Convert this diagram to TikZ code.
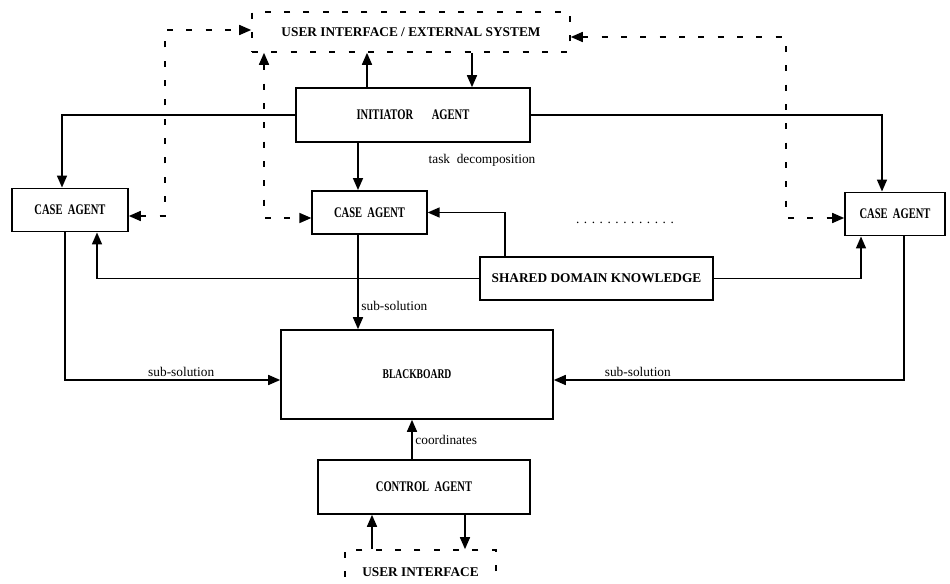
\documentclass[tikz,border=0pt]{standalone}
\usepackage{fontspec}
\setmainfont{Liberation Serif}
\newfontfamily\schmal[FakeStretch=0.72]{Liberation Serif}
\usetikzlibrary{arrows.meta,calc}

\begin{document}
\begin{tikzpicture}[x=0.75pt,y=-0.75pt,
  >={Triangle[length=9pt,width=7.5pt]},
  line width=1.2pt,
  kasten/.style={draw,rectangle,inner sep=0pt,font=\schmal\bfseries\fontsize{11}{13}\selectfont},
  extern/.style={draw,dash pattern=on 4.5pt off 10pt,inner sep=0pt,font=\bfseries\fontsize{10}{12}\selectfont},
  gestrichelt/.style={dash pattern=on 4.5pt off 10pt,<->},
  beschr/.style={font=\fontsize{10}{12}\selectfont,inner sep=2pt}]
\useasboundingbox (0,0) rectangle (950,584);
\clip (0,0) rectangle (950,584);
%Kaesten (Koordinaten in Pixel)
\node[extern,minimum width=238.5pt,minimum height=30pt] (ui) at (411,32) {USER INTERFACE / EXTERNAL SYSTEM};
\node[kasten,minimum width=175.5pt,minimum height=40.5pt] (init) at (413,115) {INITIATOR\hspace{14pt}AGENT};
\foreach \n/\x/\y/\b in {caseA/70/210/87pt, caseB/369.5/212.5/86pt, caseC/895/214/75pt}{
  \node[kasten,minimum width=\b,minimum height=32.5pt] (\n) at (\x,\y) {CASE\ \ AGENT};
}
\node[kasten,font=\bfseries\fontsize{10}{12}\selectfont,minimum width=174.75pt,minimum height=32.25pt] (wissen) at (596.5,278.5) {SHARED DOMAIN KNOWLEDGE};
\node[kasten,font=\schmal\bfseries\fontsize{10}{12}\selectfont,minimum width=204pt,minimum height=66.75pt] (tafel) at (417,374.5) {BLACKBOARD};
\node[kasten,minimum width=159pt,minimum height=40.5pt] (steuer) at (424,487) {CONTROL\ \ AGENT};
\node[extern,minimum width=113.25pt,minimum height=33pt] (ui2) at (420.5,572) {USER INTERFACE};
\node[beschr] (aufteilung) at (482,160) {task\ \ decomposition};
\node[beschr] (punkte) at (625,223) {\foreach \i in {1,...,13}{.\hskip3.4pt}};
%Initiator
\draw[->] (367,0 |- init.north) -- (367,0 |- ui.south);
\draw[->] (472,0 |- ui.south) -- (472,0 |- init.north);
\draw[->] (init.west) -| (62,0 |- caseA.north);
\draw[->] (init.east) -| (882,0 |- caseC.north);
\draw[->] (358,0 |- init.south) -- (358,0 |- caseB.north);
%Wissen an alle
\draw[->] (505,0 |- wissen.north) |- (caseB.east);
\draw[->] (wissen.west) -| (97,0 |- caseA.south);
\draw[->] (wissen.east) -| (861,0 |- caseC.south);
%Teilloesungen
\draw[->] (358,0 |- caseB.south) -- node[beschr,right,pos=0.75] (lsubB) {sub-solution} (358,0 |- tafel.north);
\draw[->] (65,0 |- caseA.south) |- node[beschr,above,pos=0.77] (lsubA) {sub-solution} (tafel.west |- 0,380);
\draw[->] (904,0 |- caseC.south) |- node[beschr,above,pos=0.88] (lsubC) {sub-solution} (tafel.east |- 0,380);
\draw[->] (412,0 |- steuer.north) -- node[beschr,right] (lkoord) {coordinates} (412,0 |- tafel.south);
\draw[->] (372,0 |- ui2.north) -- (372,0 |- steuer.south);
\draw[->] (465,0 |- steuer.south) -- (465,0 |- ui2.north);
%gestrichelt: externe Verbindungen
\draw[gestrichelt] (caseA.east |- 0,216) -| (165,30) -- (ui.west |- 0,30);
\draw[gestrichelt] (264,0 |- ui.south) |- (caseB.west |- 0,218);
\draw[gestrichelt] (ui.east |- 0,37) -| (786,218) -- (caseC.west |- 0,218);
\end{tikzpicture}
\end{document}
